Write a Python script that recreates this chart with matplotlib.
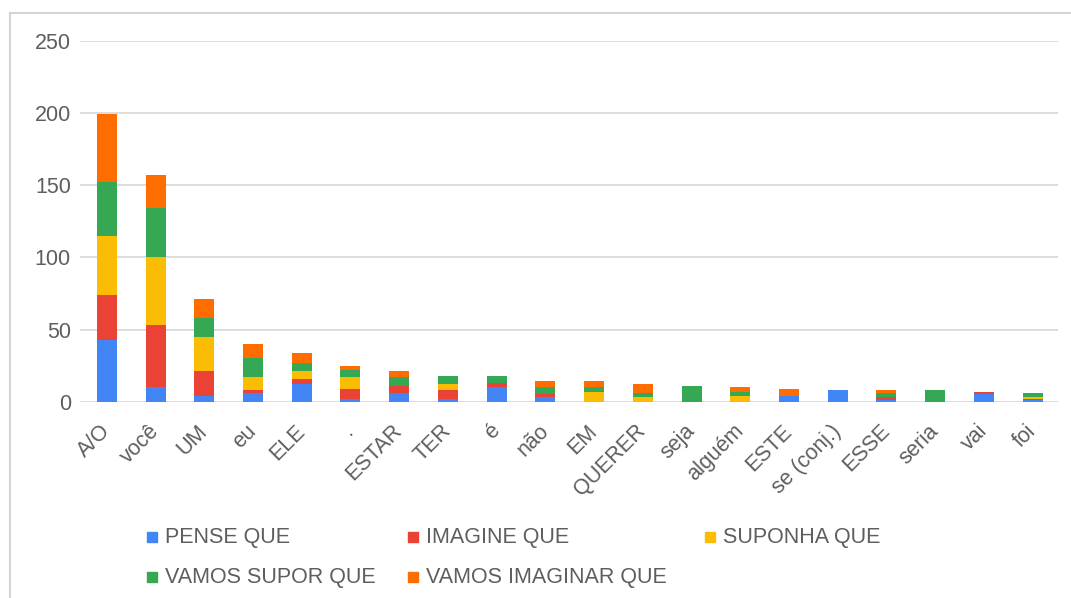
import numpy as np
import matplotlib
matplotlib.use("Agg")
import matplotlib.pyplot as plt
from matplotlib.patches import Rectangle
from matplotlib.lines import Line2D

plt.rcParams["font.family"] = ["Liberation Sans", "DejaVu Sans"]

categories = ["A/O", "você", "UM", "eu", "ELE", ".", "ESTAR", "TER", "é", "não",
              "EM", "QUERER", "seja", "alguém", "ESTE", "se (conj.)", "ESSE",
              "seria", "vai", "foi"]

pense_que = [43, 10, 4, 6, 12, 2, 6, 2, 10, 3, 0, 0, 0, 0, 4, 8, 1, 0, 5, 1]
imagine_que = [31, 43, 17, 2, 4, 7, 5, 6, 3, 2, 0, 0, 0, 0, 0, 0, 2, 0, 2, 1]
suponha_que = [41, 47, 24, 9, 5, 8, 0, 4, 0, 0, 7, 3, 0, 4, 0, 0, 0, 0, 0, 1]
vamos_supor_que = [37, 34, 13, 13, 6, 5, 6, 6, 5, 5, 3, 3, 11, 3, 0, 0, 3, 8, 0, 3]
vamos_imaginar_que = [47, 23, 13, 10, 7, 3, 4, 0, 0, 4, 4, 6, 0, 3, 5, 0, 2, 0, 0, 0]

series_names = ["PENSE QUE", "IMAGINE QUE", "SUPONHA QUE",
                "VAMOS SUPOR QUE", "VAMOS IMAGINAR QUE"]
series_values = [pense_que, imagine_que, suponha_que, vamos_supor_que, vamos_imaginar_que]
colors = ["#4285F4", "#EA4335", "#FBBC04", "#34A853", "#FF6D01"]

W, H = 1071, 598
fig = plt.figure(figsize=(W / 100, H / 100), dpi=100)
ax = fig.add_axes([80 / W, 1 - 401.7 / H, (1058 - 80) / W, (401.7 - 40.7) / H])

x = np.arange(len(categories))
bottom = np.zeros(len(categories))
for name, vals, c in zip(series_names, series_values, colors):
    vals = np.array(vals, dtype=float)
    ax.bar(x, vals, width=0.41, bottom=bottom, color=c, label=name, zorder=3)
    bottom += vals

text_color = "#5e5e5e"
ax.set_ylim(0, 250)
ax.set_xlim(-0.55, len(categories) - 0.48)
ax.set_yticks(range(0, 251, 50))
ax.yaxis.grid(True, color="#dadada", linewidth=1.3, zorder=0)
ax.tick_params(axis="y", length=0, pad=6.5, labelsize=15.5, labelcolor=text_color)
ax.tick_params(axis="x", length=0, pad=19, labelsize=15.5, labelcolor=text_color)
ax.set_xticks(x)
ax.set_xticklabels(categories, rotation=45, ha="right", va="center",
                   rotation_mode="anchor")
for s in ax.spines.values():
    s.set_visible(False)

# legend laid out like the sheet export (manual flow)
legend_spots = [(147, 537), (408, 537), (705, 537), (147, 577), (408, 577)]
for (px, py), name, c in zip(legend_spots, series_names, colors):
    fig.add_artist(Rectangle((px / W, 1 - (py + 5) / H), 10 / W, 10 / H,
                             transform=fig.transFigure, color=c))
    fig.text((px + 18) / W, 1 - py / H, name, fontsize=15.5, color=text_color,
             ha="left", va="center")

# outer frame (top and left edges visible in the crop)
fig.add_artist(Line2D([10 / W, 1], [1 - 13 / H, 1 - 13 / H],
                      transform=fig.transFigure, color="#d4d4d4", linewidth=1.5))
fig.add_artist(Line2D([10 / W, 10 / W], [0, 1 - 13 / H],
                      transform=fig.transFigure, color="#d4d4d4", linewidth=1.5))

fig.savefig("out.png", dpi=100, facecolor="white")
